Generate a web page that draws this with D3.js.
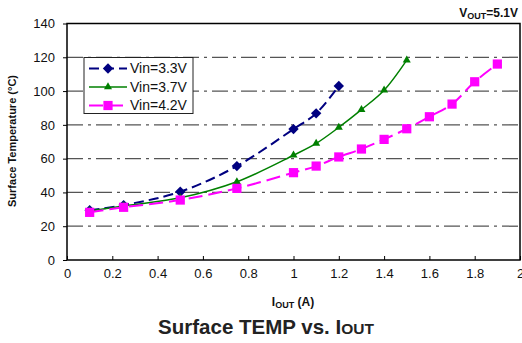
<!DOCTYPE html>
<html><head><meta charset="utf-8">
<script src="https://cdn.jsdelivr.net/npm/d3@7"></script>
<style>body{margin:0;background:#fff}text{font-family:Arial,"Liberation Sans",sans-serif}</style>
</head><body><svg id="c" width="522" height="343"></svg>
<script>
const x33 = [0.1,0.25,0.5,0.75,1.0,1.1,1.2];
const y33 = [29.5,32.5,40.4,55.6,77.5,86.8,103];
const x37 = [0.1,0.25,0.5,0.75,1.0,1.1,1.2,1.3,1.4,1.5];
const y37 = [29,32,36.8,46.3,62,69,78.5,89,100.5,118.3];
const x42 = [0.1,0.25,0.5,0.75,1.0,1.1,1.2,1.3,1.4,1.5,1.6,1.7,1.8,1.9];
const y42 = [28.2,31.2,35.5,42.4,51.7,55.6,61,65.7,71.4,77.7,84.8,92.3,105.5,116];
const xTicks = [0,0.2,0.4,0.6,0.8,1,1.2,1.4,1.6,1.8,2];
const yTicks = [0,20,40,60,80,100,120,140];
const seriesNames = ["Vin=3.3V","Vin=3.7V","Vin=4.2V"];

const svg = d3.select("#c");
const L=67,R=520,T=23.5,B=260;
const x = d3.scaleLinear().domain([0,2]).range([L,R]);
const y = d3.scaleLinear().domain([0,140]).range([B,T]);

// gridlines
svg.append("g").selectAll("line").data(yTicks.filter(v=>v>0&&v<140)).join("line")
  .attr("x1",L).attr("x2",R).attr("y1",d=>y(d)).attr("y2",d=>y(d))
  .attr("stroke","#555").attr("stroke-width",1.3).attr("stroke-dasharray","16,5,3,5");

// axes
const xa = svg.append("g").attr("transform",`translate(0,${B})`)
  .call(d3.axisBottom(x).tickValues(xTicks).tickSizeInner(-4).tickSizeOuter(0).tickPadding(14).tickFormat(d3.format("~g")));
const ya = svg.append("g").attr("transform",`translate(${L},0)`)
  .call(d3.axisLeft(y).tickValues(yTicks).tickSizeInner(4).tickSizeOuter(0).tickPadding(8));
[xa,ya].forEach(a=>{a.select(".domain").remove();a.selectAll("line").attr("stroke","#000").attr("stroke-width",1);
  a.selectAll("text").attr("font-size",13).attr("fill","#111").attr("font-family","Arial, 'Liberation Sans', sans-serif");});
xa.selectAll("text").attr("dy","0.32em");

svg.append("rect").attr("x",L).attr("y",T).attr("width",R-L).attr("height",B-T)
  .attr("fill","none").attr("stroke","#000").attr("stroke-width",1.5);

const series = [
  {xs:x33, ys:y33, color:"#000080", dash:"10,5", w:2, mk:"diamond"},
  {xs:x37, ys:y37, color:"#008000", dash:null, w:1.5, mk:"triangle"},
  {xs:x42, ys:y42, color:"#ff00ff", dash:"14,6", w:2, mk:"square"}
];
const line = d3.line().x(d=>x(d[0])).y(d=>y(d[1])).curve(d3.curveCatmullRom.alpha(0.5));
function marker(g, mk, color, cx, cy){
  if(mk==="diamond") g.append("path").attr("d","M0,-5.2L5.2,0L0,5.2L-5.2,0Z").attr("transform",`translate(${cx},${cy})`).attr("fill",color);
  if(mk==="triangle") g.append("path").attr("d",d3.symbol(d3.symbolTriangle,28)()).attr("transform",`translate(${cx},${cy})`).attr("fill",color);
  if(mk==="square") g.append("path").attr("d",d3.symbol(d3.symbolSquare,85)()).attr("transform",`translate(${cx},${cy})`).attr("fill",color);
}
series.forEach(s=>{
  const pts = s.xs.map((v,i)=>[v,s.ys[i]]);
  svg.append("path").attr("d",line(pts)).attr("fill","none").attr("stroke",s.color)
    .attr("stroke-width",s.w).attr("stroke-dasharray",s.dash);
  const g = svg.append("g");
  pts.forEach(p=>marker(g,s.mk,s.color,x(p[0]),y(p[1])));
});

// legend
const lg = svg.append("g");
lg.append("rect").attr("x",84).attr("y",57.5).attr("width",109).attr("height",56)
  .attr("fill","#fff").attr("stroke","#222").attr("stroke-width",1);
series.forEach((s,i)=>{
  const yy = 68.5+i*18.5;
  lg.append("line").attr("x1",89).attr("x2",127).attr("y1",yy).attr("y2",yy)
    .attr("stroke",s.color).attr("stroke-width",s.w).attr("stroke-dasharray",s.dash);
  marker(lg,s.mk,s.color,108,yy);
  lg.append("text").attr("x",130).attr("y",yy).attr("dy","0.35em").attr("font-size",14).attr("fill","#111").text(seriesNames[i]);
});

// titles
svg.append("text").attr("transform","translate(16,141) rotate(-90)").attr("text-anchor","middle")
  .attr("font-size",11).attr("font-weight","bold").attr("fill","#111").text("Surface Temperature (°C)");
const xt = svg.append("text").attr("x",293).attr("y",306).attr("text-anchor","middle").attr("font-size",12).attr("font-weight","bold").attr("fill","#111");
xt.append("tspan").text("I");
xt.append("tspan").attr("font-size",9).attr("dy",2).text("OUT");
xt.append("tspan").attr("dy",-2).text(" (A)");
const tt = svg.append("text").attr("x",266).attr("y",334).attr("text-anchor","middle").attr("font-size",20.5).attr("font-weight","bold").attr("fill","#222");
tt.append("tspan").text("Surface TEMP vs. I");
tt.append("tspan").attr("font-size",15.5).text("OUT");
const vt = svg.append("text").attr("x",518).attr("y",17).attr("text-anchor","end").attr("font-size",12).attr("font-weight","bold").attr("fill","#111");
vt.append("tspan").text("V");
vt.append("tspan").attr("font-size",9).attr("dy",2).text("OUT");
vt.append("tspan").attr("dy",-2).text("=5.1V");
</script></body></html>
